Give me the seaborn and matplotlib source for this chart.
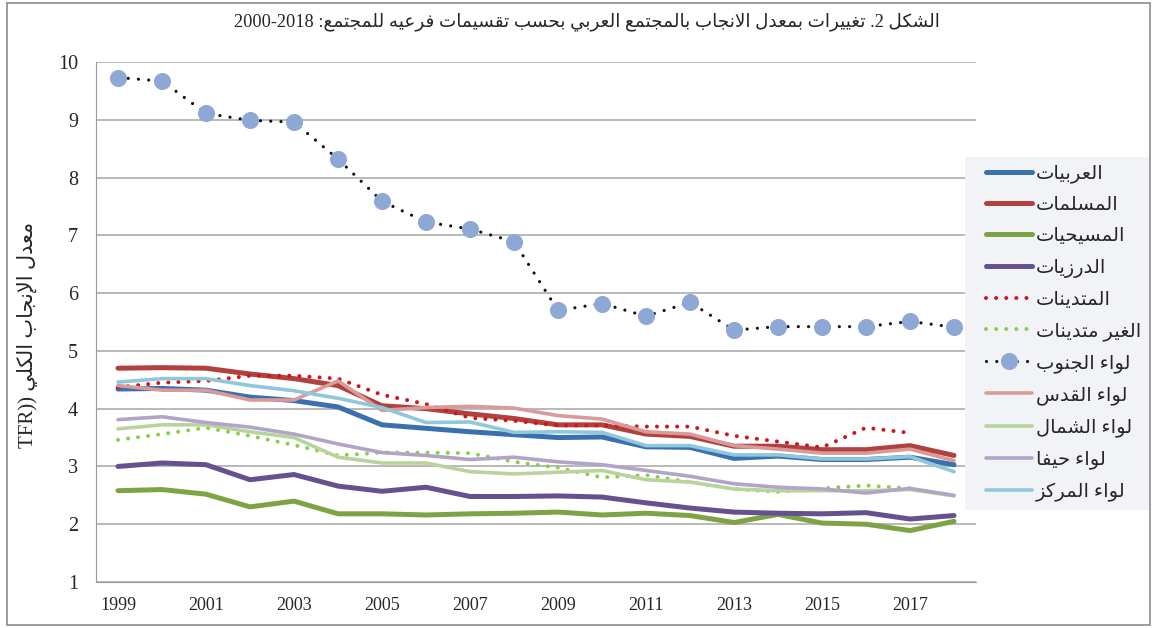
import matplotlib
matplotlib.use('Agg')
import matplotlib.pyplot as plt
import seaborn as sns
from matplotlib.patches import Rectangle

# data
years = list(range(1999, 2019))
arab = [4.34, 4.35, 4.32, 4.20, 4.14, 4.03, 3.72, 3.66, 3.60, 3.55, 3.50, 3.51, 3.34, 3.33, 3.14, 3.18, 3.12, 3.12, 3.16, 3.03]
muslim = [4.70, 4.71, 4.70, 4.60, 4.52, 4.40, 4.05, 4.00, 3.91, 3.83, 3.72, 3.72, 3.56, 3.52, 3.35, 3.35, 3.29, 3.29, 3.36, 3.19]
christian = [2.58, 2.60, 2.52, 2.30, 2.40, 2.18, 2.18, 2.16, 2.18, 2.19, 2.21, 2.16, 2.19, 2.15, 2.03, 2.17, 2.02, 2.00, 1.89, 2.05]
druze = [3.00, 3.06, 3.03, 2.77, 2.86, 2.66, 2.57, 2.64, 2.48, 2.48, 2.49, 2.47, 2.37, 2.28, 2.21, 2.19, 2.18, 2.20, 2.09, 2.15]
religious = [4.37, 4.45, 4.48, 4.57, 4.57, 4.52, 4.24, 4.08, 3.84, 3.79, 3.71, 3.71, 3.69, 3.69, 3.53, 3.43, 3.33, 3.67, 3.58, None]
nonreligious = [3.46, 3.56, 3.67, 3.53, 3.37, 3.19, 3.24, 3.24, 3.23, 3.08, 2.98, 2.81, 2.85, 2.73, 2.61, 2.56, 2.62, 2.67, 2.62, None]
south = [9.73, 9.67, 9.11, 8.99, 8.96, 8.32, 7.59, 7.23, 7.11, 6.89, 5.70, 5.82, 5.60, 5.84, 5.36, 5.42, 5.42, 5.42, 5.51, 5.41]
jerusalem = [4.40, 4.32, 4.32, 4.15, 4.15, 4.48, 3.97, 4.02, 4.04, 4.01, 3.88, 3.82, 3.60, 3.56, 3.36, 3.30, 3.23, 3.23, 3.30, 3.10]
north = [3.65, 3.72, 3.72, 3.60, 3.50, 3.16, 3.06, 3.06, 2.91, 2.87, 2.90, 2.93, 2.77, 2.73, 2.61, 2.58, 2.58, 2.58, 2.60, 2.49]
haifa = [3.81, 3.86, 3.76, 3.68, 3.56, 3.39, 3.24, 3.19, 3.12, 3.16, 3.08, 3.03, 2.93, 2.83, 2.70, 2.64, 2.61, 2.54, 2.62, 2.50]
center = [4.46, 4.52, 4.52, 4.40, 4.31, 4.18, 4.02, 3.76, 3.77, 3.59, 3.60, 3.59, 3.36, 3.36, 3.20, 3.20, 3.13, 3.13, 3.17, 2.91]

labels = ["العربيات", "المسلمات", "المسيحيات", "الدرزيات", "المتدينات", "الغير متدينات",
          "لواء الجنوب", "لواء القدس", "لواء الشمال", "لواء حيفا", "لواء المركز"]
title_words = "تغييرات بمعدل الانجاب بالمجتمع العربي بحسب تقسيمات فرعيه للمجتمع"
ylabel_words = "معدل الإنجاب الكلي"
xtick_years = list(range(1999, 2018, 2))


# matplotlib does no arabic shaping, so do it by hand with presentation forms
BASE = {'ء': 0xFE80, 'آ': 0xFE81, 'أ': 0xFE83, 'ؤ': 0xFE85, 'إ': 0xFE87, 'ئ': 0xFE89,
        'ا': 0xFE8D, 'ب': 0xFE8F, 'ة': 0xFE93, 'ت': 0xFE95, 'ث': 0xFE99, 'ج': 0xFE9D,
        'ح': 0xFEA1, 'خ': 0xFEA5, 'د': 0xFEA9, 'ذ': 0xFEAB, 'ر': 0xFEAD, 'ز': 0xFEAF,
        'س': 0xFEB1, 'ش': 0xFEB5, 'ص': 0xFEB9, 'ض': 0xFEBD, 'ط': 0xFEC1, 'ظ': 0xFEC5,
        'ع': 0xFEC9, 'غ': 0xFECD, 'ف': 0xFED1, 'ق': 0xFED5, 'ك': 0xFED9, 'ل': 0xFEDD,
        'م': 0xFEE1, 'ن': 0xFEE5, 'ه': 0xFEE9, 'و': 0xFEED, 'ى': 0xFEEF, 'ي': 0xFEF1}
DUAL = set('ئبتثجحخسشصضطظعغفقكلمنهي')
RIGHT = set('آأؤإاةدذرزوى')
LAMALEF = {'آ': 0xFEF5, 'أ': 0xFEF7, 'إ': 0xFEF9, 'ا': 0xFEFB}


def shape(text):
    out = []
    i = 0
    n = len(text)
    while i < n:
        c = text[i]
        prev = text[i - 1] if i > 0 else ' '
        joins_prev = prev in DUAL and c in BASE and c != 'ء'
        if c == 'ل' and i + 1 < n and text[i + 1] in LAMALEF:
            out.append(chr(LAMALEF[text[i + 1]] + (1 if joins_prev else 0)))
            i += 2
            continue
        if c not in BASE:
            out.append(c)
            i += 1
            continue
        nxt = text[i + 1] if i + 1 < n else ' '
        joins_next = c in DUAL and (nxt in DUAL or nxt in RIGHT)
        if c == 'ء':
            form = 0
        elif c in RIGHT:
            form = 1 if joins_prev else 0
        else:
            if joins_prev and joins_next:
                form = 3
            elif joins_next:
                form = 2
            elif joins_prev:
                form = 1
            else:
                form = 0
        out.append(chr(BASE[c] + form))
        i += 1
    return ''.join(out)


def rtl(text):
    return shape(text)[::-1]


sns.set_style('white')
plt.rcParams['font.family'] = ['Liberation Serif', 'DejaVu Sans']

fig = plt.figure(figsize=(11.55, 6.28), dpi=100)
ax = fig.add_axes([96 / 1155, 1 - 582 / 628, 880 / 1155, 520 / 628])

series = [arab, muslim, christian, druze, religious, nonreligious, south, jerusalem, north, haifa, center]
colors = ['#3a70b0', '#b0413e', '#7ea344', '#67508e', '#d0151c', '#87d04a', '#111111',
          '#d99a98', '#b8d49c', '#b2a3c9', '#8fc8da']
widths = [3.6, 3.6, 3.6, 3.6, 2.9, 2.9, 2.3, 2.6, 2.6, 2.6, 2.6]

for vals, col, lw, lab in zip(series, colors, widths, labels):
    xs = [y for y, v in zip(years, vals) if v is not None]
    ys = [v for v in vals if v is not None]
    kw = dict(color=col, lw=lw, label=rtl(lab), ax=ax)
    if vals is religious or vals is nonreligious:
        kw.update(linestyle=(0, (0.01, 2.5)), dash_capstyle='round')
    elif vals is south:
        kw.update(linestyle=(0, (0.01, 3.2)), dash_capstyle='round', marker='o',
                  markersize=11.5, markerfacecolor='#8ea8d6', markeredgecolor='#8ea8d6')
    sns.lineplot(x=xs, y=ys, **kw)

ax.set_xlim(1998.5, 2018.5)
ax.set_ylim(1, 10)
ax.set_yticks(range(1, 11))
ax.set_xticks(xtick_years)
ax.set_xticklabels([str(y) for y in xtick_years], fontsize=13)
ax.tick_params(axis='y', labelsize=14.5, length=5, color='#9a9a9a', pad=8)
ax.tick_params(axis='x', length=0, pad=11)
ax.grid(axis='y', color='#a6a6a6', lw=1.1)
ax.set_axisbelow(True)
for s in ['top', 'right']:
    ax.spines[s].set_visible(False)
ax.spines['left'].set_color('#9a9a9a')
ax.spines['bottom'].set_color('#9a9a9a')

ax.set_ylabel('TFR)) ' + rtl(ylabel_words), fontsize=15)
ax.yaxis.set_label_coords(-0.066, 0.475)

title = '2000-2018 :' + rtl(title_words) + ' .2 ' + rtl('الشكل')
fig.text(0.508, 1 - 22 / 628, title, ha='center', va='center', fontsize=13.2)

# legend sits on a light grey box that hides the right end of the grid
fig.patches.append(Rectangle((965 / 1155, 1 - 510 / 628), 185 / 1155, 353 / 628,
                             transform=fig.transFigure, facecolor='#f2f3f6',
                             edgecolor='none', zorder=2))
handles, leg_labels = ax.get_legend_handles_labels()
if ax.get_legend():
    ax.get_legend().remove()
fig.legend(handles, leg_labels, loc='upper left', bbox_to_anchor=(970 / 1155, 1 - 149 / 628),
           frameon=False, fontsize=14, handlelength=2.4, labelspacing=0.69,
           borderpad=0.3, handletextpad=0.2)

# outer chart border
fig.patches.append(Rectangle((7 / 1155, 3 / 628), 1143 / 1155, 622 / 628, transform=fig.transFigure,
                             fill=False, edgecolor='#8c8c8c', lw=1.2, zorder=3))

fig.savefig('out.png', dpi=100)
